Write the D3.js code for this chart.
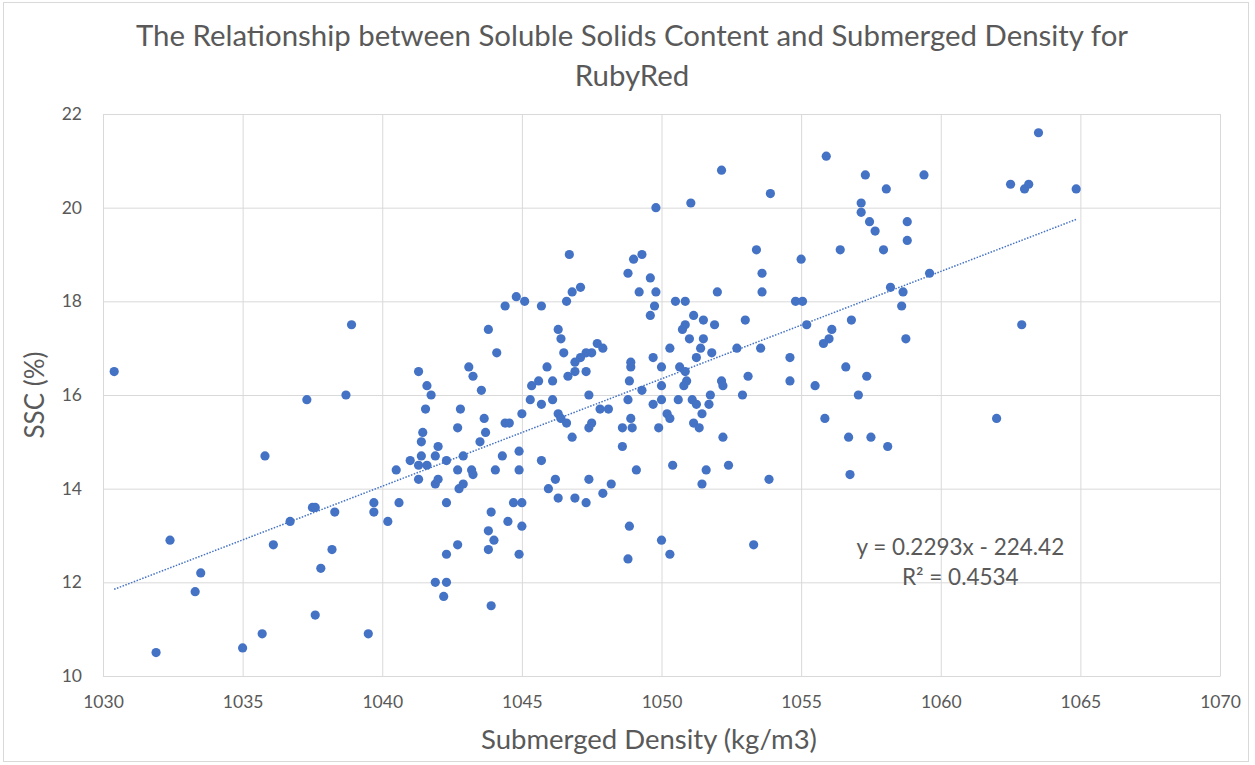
<!DOCTYPE html>
<html>
<head>
<meta charset="utf-8">
<script src="https://cdn.jsdelivr.net/npm/d3@7"></script>
<style>
  html, body { margin: 0; padding: 0; background: #fff; }
  svg { display: block; font-family: Lato, 'Open Sans', sans-serif; }
</style>
</head>
<body>
<div id="chart-area"></div>
<script>
// values
const density = [
  1030.4, 1038.9, 1037.3, 1038.7,
  1035.8, 1040.5, 1032.4, 1033.5, 1033.3, 1031.9, 1035.0, 1035.7, 1037.6, 1039.5,
  1036.1, 1036.7, 1037.5, 1037.6, 1038.3, 1038.2, 1037.8, 1039.7, 1039.7, 1040.2, 1040.6,
  1048.8, 1049.6, 1049.2, 1049.8, 1049.75, 1049.6, 1050.5, 1044.8, 1045.1, 1044.4,
  1045.7, 1046.6, 1046.8, 1047.1, 1043.8, 1044.1, 1046.3, 1046.4, 1046.5, 1047.7,
  1047.9, 1047.5, 1047.3, 1047.1, 1046.9, 1046.9, 1046.65, 1047.3, 1045.9, 1046.1,
  1045.6, 1045.35, 1045.3, 1045.7, 1046.1, 1045.0, 1046.3, 1046.4, 1046.6, 1046.8,
  1047.4, 1047.8, 1048.1, 1047.4, 1047.5, 1048.6, 1048.95, 1048.9, 1048.8, 1048.85,
  1048.9, 1048.9, 1049.3, 1049.7, 1050.0, 1050.0, 1050.0, 1049.7, 1050.3, 1050.2,
  1050.3, 1049.9, 1048.6, 1049.1, 1050.4,
  1041.3, 1041.6, 1041.75, 1041.55, 1041.45, 1041.4, 1041.4, 1042.0, 1041.9, 1041.0,
  1041.3, 1041.6, 1041.3, 1042.3, 1042.7, 1042.9, 1041.9, 1042.0, 1042.75, 1042.9,
  1043.2, 1043.25, 1042.8, 1042.7, 1043.1, 1043.25, 1043.55, 1043.65, 1043.7, 1043.5,
  1044.4, 1044.55, 1044.3, 1044.05, 1044.9, 1044.9, 1045.7, 1046.2, 1045.95, 1046.3,
  1047.4, 1046.9, 1047.3, 1047.9, 1048.2, 1042.3, 1043.9, 1044.7, 1045.0, 1044.5,
  1045.0, 1043.8, 1044.0, 1043.8, 1042.7, 1042.3, 1044.9, 1041.9, 1042.3, 1042.2,
  1043.9, 1048.85, 1048.8, 1050.0, 1050.3,
  1055.9, 1052.15, 1057.3, 1059.4, 1058.05, 1053.9, 1049.8, 1051.05, 1057.15, 1057.15,
  1057.45, 1057.65, 1058.8, 1058.8, 1057.95, 1056.4, 1053.4, 1055.0, 1053.6, 1059.6,
  1058.2, 1058.65, 1058.6, 1058.75, 1052.0, 1053.6, 1054.8, 1055.05, 1055.2, 1056.8,
  1056.1, 1056.0, 1055.8, 1056.6, 1057.35, 1057.05, 1055.5, 1054.6, 1054.6, 1053.0,
  1052.7, 1053.55, 1053.1, 1052.9, 1051.75, 1051.1, 1050.6, 1050.85, 1051.15, 1051.5,
  1051.9, 1050.85, 1050.75, 1051.0, 1051.5, 1051.4, 1051.8, 1051.25, 1050.65, 1050.85,
  1050.9, 1050.8, 1052.15, 1052.2,
  1051.25, 1051.7, 1051.45, 1051.15, 1051.35, 1052.2, 1051.6, 1052.4, 1051.45, 1053.85,
  1055.85, 1056.7, 1057.5, 1058.1, 1056.75, 1053.3,
  1063.5, 1062.5, 1063.0, 1063.15, 1064.85, 1062.9, 1062.0,
  1046.7, 1049.0, 1049.3
];

const ssc = [
  16.5, 17.5, 15.9, 16.0,
  14.7, 14.4, 12.9, 12.2, 11.8, 10.5, 10.6, 10.9, 11.3, 10.9,
  12.8, 13.3, 13.6, 13.6, 13.5, 12.7, 12.3, 13.7, 13.5, 13.3, 13.7,
  18.6, 18.5, 18.2, 18.2, 17.9, 17.7, 18.0, 18.1, 18.0, 17.9,
  17.9, 18.0, 18.2, 18.3, 17.4, 16.9, 17.4, 17.2, 16.9, 17.1,
  17.0, 16.9, 16.9, 16.8, 16.7, 16.5, 16.4, 16.5, 16.6, 16.3,
  16.3, 16.2, 15.9, 15.8, 15.9, 15.6, 15.6, 15.5, 15.4, 15.1,
  16.0, 15.7, 15.7, 15.3, 15.4, 15.3, 15.3, 15.5, 15.9, 16.3,
  16.6, 16.7, 16.1, 15.8, 15.9, 16.2, 16.6, 16.8, 17.0, 15.6,
  15.5, 15.3, 14.9, 14.4, 14.5,
  16.5, 16.2, 16.0, 15.7, 15.2, 15.0, 14.7, 14.9, 14.7, 14.6,
  14.5, 14.5, 14.2, 14.6, 14.4, 14.7, 14.1, 14.2, 14.0, 14.1,
  14.4, 14.3, 15.7, 15.3, 16.6, 16.4, 16.1, 15.5, 15.2, 15.0,
  15.4, 15.4, 14.7, 14.4, 14.8, 14.4, 14.6, 14.2, 14.0, 13.8,
  14.2, 13.8, 13.7, 13.9, 14.1, 13.7, 13.5, 13.7, 13.7, 13.3,
  13.2, 13.1, 12.9, 12.7, 12.8, 12.6, 12.6, 12.0, 12.0, 11.7,
  11.5, 13.2, 12.5, 12.9, 12.6,
  21.1, 20.8, 20.7, 20.7, 20.4, 20.3, 20.0, 20.1, 20.1, 19.9,
  19.7, 19.5, 19.7, 19.3, 19.1, 19.1, 19.1, 18.9, 18.6, 18.6,
  18.3, 18.2, 17.9, 17.2, 18.2, 18.2, 18.0, 18.0, 17.5, 17.6,
  17.4, 17.2, 17.1, 16.6, 16.4, 16.0, 16.2, 16.8, 16.3, 17.6,
  17.0, 17.0, 16.4, 16.0, 16.0, 15.9, 15.9, 18.0, 17.7, 17.6,
  17.5, 17.5, 17.4, 17.2, 17.2, 17.0, 16.9, 16.8, 16.6, 16.5,
  16.3, 16.2, 16.3, 16.2,
  15.8, 15.8, 15.6, 15.4, 15.3, 15.1, 14.4, 14.5, 14.1, 14.2,
  15.5, 15.1, 15.1, 14.9, 14.3, 12.8,
  21.6, 20.5, 20.4, 20.5, 20.4, 17.5, 15.5,
  19.0, 18.9, 19.0
];

const xTicks = [1030, 1035, 1040, 1045, 1050, 1055, 1060, 1065, 1070];
const yTicks = [10, 12, 14, 16, 18, 20, 22];

// linear trendline as printed on the chart
const slope = 0.2293;
const intercept = -224.42;
const rSquared = 0.4534;

const titleLines = [
  'The Relationship between Soluble Solids Content and Submerged Density for',
  'RubyRed'
];

const width = 1255;
const height = 765;
const margin = { top: 114, right: 35, bottom: 89, left: 103 };
const innerW = width - margin.left - margin.right;
const innerH = height - margin.top - margin.bottom;
const textColor = '#595959';
const gridColor = '#d9d9d9';
const markColor = '#4472c4';

const svg = d3
  .select('#chart-area')
  .append('svg')
  .attr('width', width)
  .attr('height', height);

// chart frame
svg
  .append('rect')
  .attr('x', 3.5)
  .attr('y', 2.5)
  .attr('width', 1245)
  .attr('height', 759)
  .attr('fill', '#fff')
  .attr('stroke', gridColor);

const plot = svg.append('g').attr('transform', `translate(${margin.left},${margin.top})`);

const xScale = d3.scaleLinear().domain([1030, 1070]).range([0, innerW]);
const yScale = d3.scaleLinear().domain([10, 22]).range([innerH, 0]);

// gridlines
plot
  .append('g')
  .call(d3.axisBottom(xScale).tickValues(xTicks).tickSize(-innerH).tickFormat(''))
  .attr('transform', `translate(0,${innerH})`)
  .call(g => g.select('.domain').remove())
  .selectAll('line')
  .attr('stroke', gridColor);

plot
  .append('g')
  .call(d3.axisLeft(yScale).tickValues(yTicks).tickSize(-innerW).tickFormat(''))
  .call(g => g.select('.domain').remove())
  .selectAll('line')
  .attr('stroke', gridColor);

// tick labels
const xAxis = plot
  .append('g')
  .attr('transform', `translate(0,${innerH})`)
  .call(
    d3
      .axisBottom(xScale)
      .tickValues(xTicks)
      .tickFormat(d3.format('d'))
      .tickSize(0)
      .tickPadding(20)
  );
xAxis.select('.domain').attr('stroke', gridColor);
xAxis
  .selectAll('text')
  .attr('fill', textColor)
  .attr('font-size', 17.5)
  .attr('font-family', 'Lato, sans-serif');

const yAxis = plot
  .append('g')
  .call(d3.axisLeft(yScale).tickValues(yTicks).tickSize(0).tickPadding(21));
yAxis.select('.domain').remove();
yAxis
  .selectAll('text')
  .attr('fill', textColor)
  .attr('font-size', 17.5)
  .attr('font-family', 'Lato, sans-serif');

// trendline
const xExtent = d3.extent(density);
plot
  .append('line')
  .attr('x1', xScale(xExtent[0]))
  .attr('y1', yScale(slope * xExtent[0] + intercept))
  .attr('x2', xScale(xExtent[1]))
  .attr('y2', yScale(slope * xExtent[1] + intercept))
  .attr('stroke', markColor)
  .attr('stroke-width', 1.5)
  .attr('stroke-dasharray', '1.5,1.5');

// points
const points = density.map((d, i) => ({ x: d, y: ssc[i] }));
plot
  .selectAll('circle')
  .data(points)
  .enter()
  .append('circle')
  .attr('cx', d => xScale(d.x))
  .attr('cy', d => yScale(d.y))
  .attr('r', 4.6)
  .attr('fill', markColor);

// equation label
const eqX = xScale(1060.7);
const eq = plot
  .append('text')
  .attr('x', eqX)
  .attr('y', yScale(12.58))
  .attr('text-anchor', 'middle')
  .attr('fill', textColor)
  .attr('font-size', 22.5);
eq.append('tspan').text(`y = ${slope}x - ${Math.abs(intercept)}`);
eq
  .append('tspan')
  .attr('x', eqX)
  .attr('dy', 30)
  .text(`R² = ${rSquared}`);

// title
svg
  .append('g')
  .selectAll('text')
  .data(titleLines)
  .enter()
  .append('text')
  .attr('x', 632)
  .attr('y', (d, i) => 46 + i * 40)
  .attr('text-anchor', 'middle')
  .attr('fill', textColor)
  .attr('font-size', 29.4)
  .text(d => d);

// axis titles
svg
  .append('text')
  .attr('x', 649)
  .attr('y', 749)
  .attr('text-anchor', 'middle')
  .attr('fill', textColor)
  .attr('font-size', 27.5)
  .text('Submerged Density (kg/m3)');

svg
  .append('text')
  .attr('transform', `translate(44,${margin.top + innerH / 2}) rotate(-90)`)
  .attr('text-anchor', 'middle')
  .attr('fill', textColor)
  .attr('font-size', 26)
  .text('SSC (%)');
</script>
</body>
</html>
